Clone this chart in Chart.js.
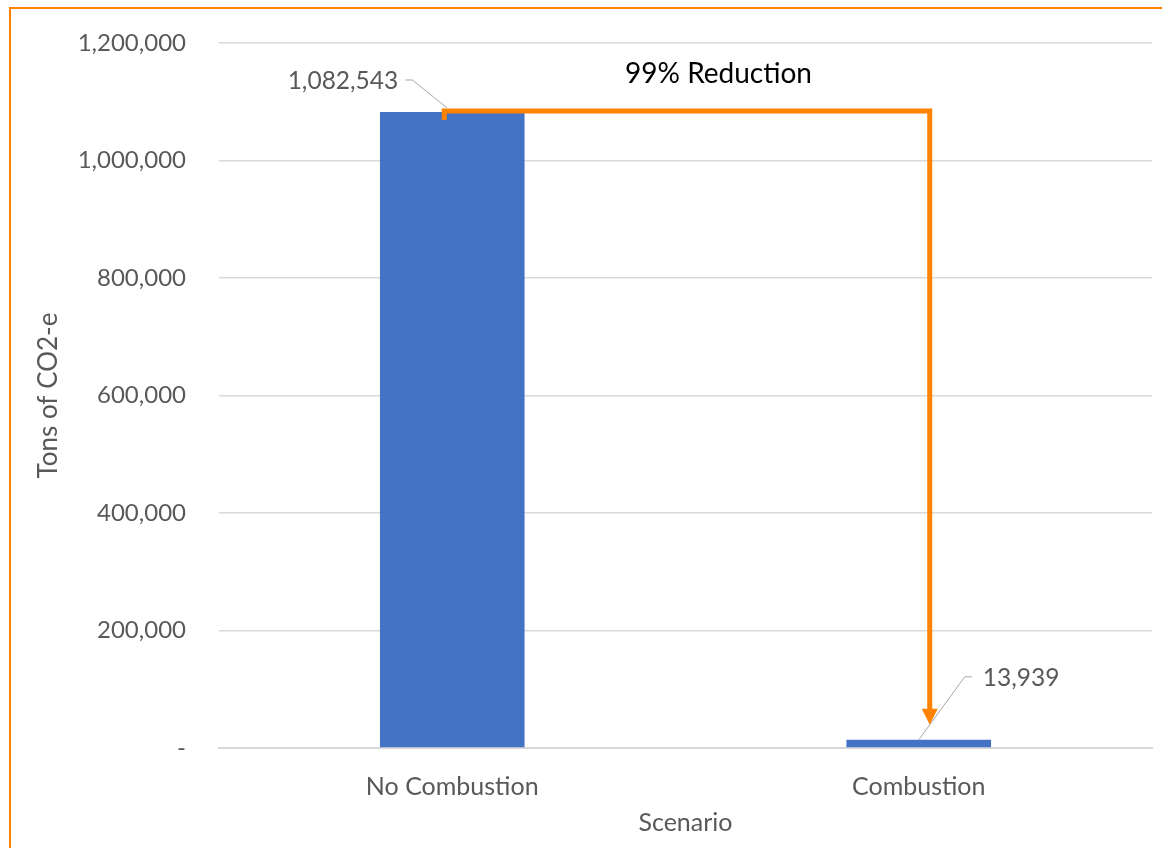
<!DOCTYPE html>
<html>
<head>
<meta charset="utf-8">
<script src="https://cdn.jsdelivr.net/npm/chart.js@4"></script>
<style>
  html, body { margin: 0; padding: 0; background: #fff; }
  #wrap { position: relative; width: 1162px; height: 848px; }
  #frame { position: absolute; left: 9px; top: 7px; right: -4px; bottom: -4px;
           border-top: 2px solid #ff8200; border-left: 2px solid #ff8200; }
</style>
</head>
<body>
<div id="wrap">
  <canvas id="grafica" width="1162" height="848"></canvas>
  <div id="frame"></div>
</div>
<script>
var escenarios = ['No Combustion', 'Combustion'];
var toneladas = [1082543, 13939];
var nota = '99% Reduction';

var gris = '#595959';
var naranja = '#ff8200';
var fuente = 'Lato, "Open Sans", sans-serif';

function fmt(v) { return v.toLocaleString('en-US'); }

// leader lines, value labels and the reduction arrow
var anotaciones = {
  id: 'anotaciones',
  afterDatasetsDraw: function (chart) {
    var ctx = chart.ctx;
    var barras = chart.getDatasetMeta(0).data;
    var b0 = barras[0], b1 = barras[1];
    ctx.save();

    // leader lines
    ctx.strokeStyle = '#a6a6a6';
    ctx.lineWidth = 1;
    ctx.beginPath();
    ctx.moveTo(b0.x - 47, b0.y - 32);
    ctx.lineTo(b0.x - 40, b0.y - 32);
    ctx.lineTo(b0.x - 5, b0.y - 4);
    ctx.moveTo(b1.x + 53, b1.y - 63);
    ctx.lineTo(b1.x + 46, b1.y - 63);
    ctx.lineTo(b1.x, b1.y);
    ctx.stroke();

    ctx.fillStyle = gris;
    ctx.font = '24.5px ' + fuente;
    ctx.textBaseline = 'middle';
    ctx.textAlign = 'right';
    ctx.fillText(fmt(toneladas[0]), b0.x - 54, b0.y - 31);
    ctx.textAlign = 'left';
    ctx.fillText(fmt(toneladas[1]), b1.x + 64, b1.y - 62);

    // arrow from first bar to second bar
    var yTop = b0.y - 1;
    var xIni = b0.x - 8;
    var xFin = b1.x + 11;
    var yPunta = b1.y - 15;
    ctx.strokeStyle = naranja;
    ctx.fillStyle = naranja;
    ctx.lineWidth = 5;
    ctx.lineJoin = 'miter';
    ctx.lineCap = 'butt';
    ctx.beginPath();
    ctx.moveTo(xIni, yTop + 9);
    ctx.lineTo(xIni, yTop);
    ctx.lineTo(xFin, yTop);
    ctx.lineTo(xFin, yPunta - 14);
    ctx.stroke();
    ctx.beginPath();
    ctx.moveTo(xFin - 8, yPunta - 16);
    ctx.lineTo(xFin + 8, yPunta - 16);
    ctx.lineTo(xFin, yPunta);
    ctx.closePath();
    ctx.fill();

    ctx.fillStyle = '#000';
    ctx.font = '28px ' + fuente;
    ctx.textAlign = 'center';
    ctx.textBaseline = 'middle';
    ctx.fillText(nota, (b0.x + b1.x) / 2 + 33, yTop - 37);
    ctx.restore();
  }
};

new Chart(document.getElementById('grafica'), {
  type: 'bar',
  data: {
    labels: escenarios,
    datasets: [{
      label: 'Tons of CO2-e',
      data: toneladas,
      backgroundColor: '#4472c4',
      barPercentage: 0.31,
      categoryPercentage: 1
    }]
  },
  options: {
    responsive: false,
    animation: false,
    layout: { padding: { top: 43, right: 10, left: 0, bottom: 0 } },
    plugins: {
      legend: { display: false },
      tooltip: { enabled: false }
    },
    scales: {
      x: {
        grid: { display: false },
        border: { color: '#d9d9d9', width: 2 },
        ticks: { color: gris, font: { family: fuente, size: 25 }, padding: 16 },
        title: { display: true, text: 'Scenario', color: gris,
                 font: { family: fuente, size: 25 }, padding: { top: 0, bottom: 10 } },
        afterFit: function (s) { s.height = 100; }
      },
      y: {
        min: 0,
        max: 1200000,
        grid: { color: '#d9d9d9', lineWidth: 1.5, drawTicks: false },
        border: { display: false },
        ticks: {
          stepSize: 200000,
          color: gris,
          font: { family: fuente, size: 24 },
          padding: 33,
          callback: function (v) { return v === 0 ? '-' : fmt(v); }
        },
        title: { display: true, text: 'Tons of CO2-e', color: gris,
                 font: { family: fuente, size: 26 }, padding: { top: 33, bottom: 0 } },
        afterFit: function (s) {
          s.width = 219;
          s.paddingTop = 0;   // tick padding would otherwise push the top gridline down
        }
      }
    }
  },
  plugins: [anotaciones]
});
</script>
</body>
</html>
